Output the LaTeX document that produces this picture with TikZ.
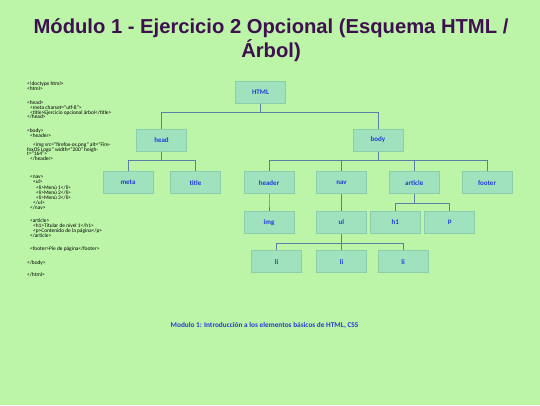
\documentclass[tikz,border=0pt]{standalone}
\usepackage{fontspec}
\setmainfont{Carlito}
\newfontfamily\titlefont{Liberation Sans}
\usetikzlibrary{positioning}

\definecolor{slidebg}{RGB}{188,245,168}
\definecolor{boxfill}{RGB}{160,226,190}
\definecolor{boxline}{RGB}{138,206,172}
\definecolor{labelblue}{RGB}{35,60,215}
\definecolor{wireblue}{RGB}{92,128,165}
\definecolor{titlepurple}{RGB}{62,16,80}
\newcommand{\codeindent}{\hspace*{3pt}}

\begin{document}
\begin{tikzpicture}[
                x=1pt, y=1pt,
                element/.style={rectangle, draw=boxline, line width=1pt, fill=boxfill, minimum width=50pt, minimum height=22pt, inner sep=0pt, text=labelblue, font=\bfseries\fontsize{7}{8}\selectfont},
                branch/.style={draw=wireblue, line width=0.9pt},
            ]
                % Slide background
                \fill[slidebg] (0,0) rectangle (540,-405);
                \useasboundingbox (0,0) rectangle (540,-405);

                % Title
                \node[font=\titlefont\bfseries\fontsize{20.2}{24.5}\selectfont, text=titlepurple, align=center] (heading) at (271,-40) {Módulo 1 - Ejercicio 2 Opcional (Esquema HTML /\\Árbol)};

                % Source code on the left
                \node[anchor=north west, align=left, inner sep=0pt, font=\fontsize{5.4}{4.9}\selectfont] (listing) at (27,-82) {<!doctype html>\\
<html>\\[8.5pt]
<head>\\
\codeindent <meta charset="utf-8">\\
\codeindent <title>Ejercicio opcional árbol</title>\\
</head>\\[8.5pt]
<body>\\
\codeindent <header>\\[4pt]
\codeindent\codeindent <img src="firefox-os.png" alt="Fire-\\
foxOS Logo" width="200" heigh-\\
t="164">\\
\codeindent </header>\\[12.5pt]
\codeindent <nav>\\
\codeindent\codeindent <ul>\\[1.5pt]
\codeindent\codeindent\codeindent <li>Menú 1</li>\\
\codeindent\codeindent\codeindent <li>Menú 2</li>\\
\codeindent\codeindent\codeindent <li>Menú 3</li>\\
\codeindent\codeindent </ul>\\
\codeindent </nav>\\[8.5pt]
\codeindent <article>\\
\codeindent\codeindent <h1>Titular de nivel 1</h1>\\
\codeindent\codeindent <p>Contenido de la página</p>\\
\codeindent </article>\\[8.5pt]
\codeindent <footer>Pie de página</footer>\\[8.5pt]
</body>\\[8pt]
</html>};

                % Draw the tree, level by level
                \node[element] (html) at (260.5,-92) {HTML};
                \foreach \name / \x in {head/161.5, body/378}
                    \node[element] (\name) at (\x,-140) {\name};
                \foreach \name / \x in {meta/128, title/195.5, header/269, nav/341.5, article/414.3, footer/487}
                    \node[element] (\name) at (\x,-182.7) {\name};
                \foreach \name / \x in {img/269, ul/341.3, h1/395.2, p/449.8}
                    \node[element] (\name) at (\x,-222.5) {\name};
                \foreach \n / \x in {1/276.7, 2/341.5, 3/403}
                    \node[element] (li-\n) at (\x,-261.7) {li};

                % Connect every parent with its children
                \foreach \parent / \child in {html/head, html/body, head/meta, head/title, body/header, body/nav, body/article, body/footer, header/img, nav/ul, article/h1, article/p, ul/li-1, ul/li-2, ul/li-3}
                    \draw[branch] (\parent.south) -- ++(0,-9) -| (\child.north);

                % Caption
                \node[text=labelblue, font=\bfseries\fontsize{7.3}{8}\selectfont] (caption) at (264.5,-325) {Modulo 1: Introducción a los elementos básicos de HTML, CSS};
            \end{tikzpicture}
\end{document}
